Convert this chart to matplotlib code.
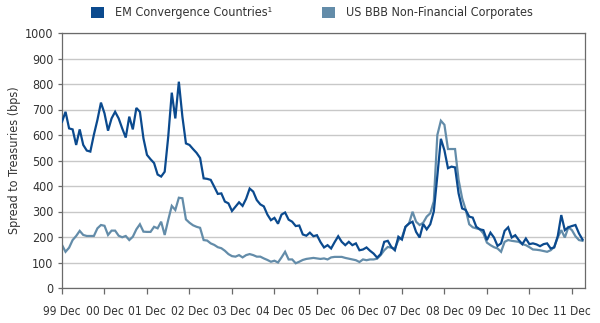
import matplotlib
matplotlib.use("Agg")
import matplotlib.pyplot as plt
from matplotlib.patches import Patch
import numpy as np

plt.rcParams['font.family'] = ['DejaVu Sans']
plt.rcParams['font.stretch'] = 'condensed'

# Monthly data, Dec 1999 onward
em = [652, 691, 626, 622, 561, 622, 561, 539, 535, 601, 659, 727,
      685, 617, 665, 691, 665, 626, 590, 672, 622, 706, 691, 587,
      522, 505, 490, 445, 437, 456, 593, 766, 665, 809, 672, 567,
      561, 545, 530, 510, 430, 428, 424, 397, 369, 371, 339, 332,
      302, 319, 336, 322, 350, 390, 378, 345, 328, 320, 288, 266,
      275, 252, 288, 296, 268, 260, 243, 245, 210, 205, 217, 203,
      207, 180, 159, 168, 155, 180, 203, 181, 168, 181, 168, 175,
      148, 151, 159, 146, 135, 119, 133, 181, 185, 161, 148, 201,
      190, 240, 253, 260, 220, 198, 251, 230, 250, 300, 440, 585,
      540, 470, 476, 473, 371, 312, 306, 280, 276, 240, 230, 227,
      188, 217, 198, 165, 175, 224, 238, 198, 207, 188, 172, 194,
      172, 175, 171, 164, 172, 175, 155, 159, 203, 286, 227, 238,
      243, 247, 214, 190]

bbb = [169, 142, 158, 188, 204, 224, 208, 204, 204, 204, 234, 247,
       244, 208, 225, 225, 205, 199, 204, 188, 201, 230, 250, 221,
       220, 220, 240, 234, 260, 208, 267, 322, 306, 354, 352, 269,
       256, 246, 240, 236, 188, 186, 175, 169, 160, 156, 146, 133,
       125, 123, 129, 120, 129, 133, 129, 123, 123, 116, 110, 103,
       107, 100, 120, 142, 112, 112, 97, 103, 110, 114, 116, 118,
       116, 114, 116, 112, 120, 122, 122, 122, 118, 115, 112, 109,
       102, 112, 109, 112, 112, 115, 129, 148, 161, 158, 155, 188,
       198, 240, 253, 299, 260, 247, 256, 280, 293, 340, 600, 656,
       640, 545, 545, 545, 424, 352, 308, 250, 238, 234, 230, 214,
       178, 168, 160, 155, 142, 181, 188, 185, 183, 181, 172, 168,
       160, 151, 150, 148, 145, 142, 148, 161, 198, 227, 198, 238,
       227, 203, 188, 185]

tick_labels = ['99 Dec', '00 Dec', '01 Dec', '02 Dec', '03 Dec', '04 Dec',
               '05 Dec', '06 Dec', '07 Dec', '08 Dec', '09 Dec', '10 Dec', '11 Dec']
series_names = ['EM Convergence Countries\u00b9', 'US BBB Non-Financial Corporates']

c_em = '#0b4a8e'
c_bbb = '#638ca9'

fig = plt.figure(figsize=(6.0, 3.23), dpi=100)
ax = fig.add_axes([62/600, 1-288/323, (585-62)/600, (288-33)/323])

x = np.arange(len(em))
ax.plot(x, em, color=c_em, lw=1.6, solid_joinstyle='miter', zorder=3)
ax.plot(np.arange(len(bbb)), bbb, color=c_bbb, lw=1.6, solid_joinstyle='miter', zorder=2)

ax.set_ylim(0, 1000)
ax.set_yticks(np.arange(0, 1001, 100))
ax.set_xlim(0, 147.7)
ax.set_xticks(np.arange(len(tick_labels)) * 12)
ax.set_xticklabels(tick_labels)
ax.yaxis.grid(True, color='#c8c8c8', lw=1.0)
ax.set_axisbelow(True)
for s in ax.spines.values():
    s.set_color('#6a6a6a')
    s.set_linewidth(0.9)
ax.tick_params(axis='x', length=4, width=0.9, color='#6a6a6a', labelsize=8.6, pad=8, labelcolor='#333333')
ax.tick_params(axis='y', length=3, width=0.9, color='#6a6a6a', labelsize=9, pad=3, labelcolor='#333333')
ax.set_ylabel('Spread to Treasuries (bps)', fontsize=9, color='#333333', labelpad=3)

handles = [Patch(facecolor=c_em, edgecolor='none'), Patch(facecolor=c_bbb, edgecolor='none')]
fig.legend(handles, series_names, loc='upper center', bbox_to_anchor=(0.52, 1.015), ncol=2,
           frameon=False, fontsize=9, handlelength=1.0, handleheight=1.0,
           columnspacing=4.0, handletextpad=0.9, labelcolor='#333333')

fig.savefig('out.png', dpi=100)
